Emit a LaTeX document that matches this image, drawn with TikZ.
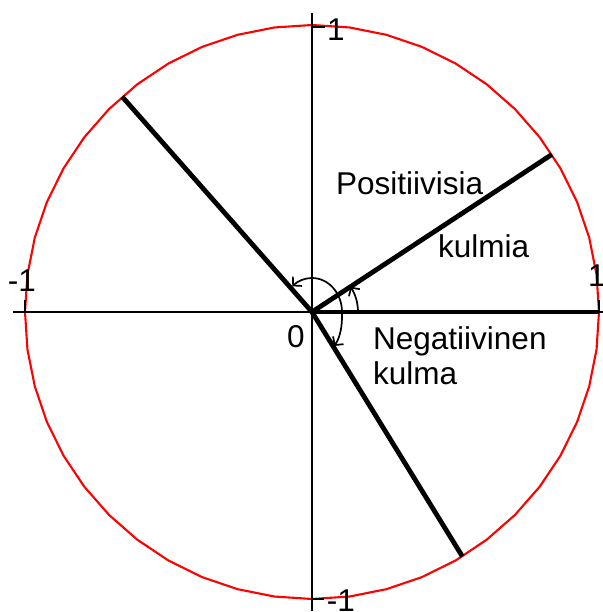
\documentclass[tikz,border=0pt]{standalone}
\usepackage{fontspec}
\setmainfont{Liberation Sans}
\usetikzlibrary{arrows.meta}

\begin{document}
\begin{tikzpicture}[x=1pt,y=1pt,
  axis/.style={line width=1.7pt},
  ray/.style={line width=4.8pt},
  turn/.style={line width=1.7pt,-{Straight Barb[length=6pt,width=13pt]}},
  lbl/.style={inner sep=0pt,font=\fontsize{31.5}{36}\selectfont}]
  \useasboundingbox (-312,-300) rectangle (290,312);

  \coordinate (O) at (0,0);
  \draw[red,line width=2.1pt] plot[samples=49,domain=0:360] ({287*cos(\x)},{287*sin(\x)});

  % axes and ticks
  \draw[axis] (-299,0) -- (299,0);
  \draw[axis] (0,-299) -- (0,299);
  \draw[axis] (-287,0) -- (-287,12);
  \draw[axis] (287,0) -- (287,12);
  \draw[axis] (0,285) -- (13,285);
  \draw[axis] (0,-287) -- (12,-287);

  % the angles
  \coordinate (a0) at (0:287);
  \coordinate (a1) at (33.3:287);
  \coordinate (a2) at (131.4:287);
  \coordinate (a3) at (-58.4:287);
  \draw[ray] (O) -- (a0);
  \draw[ray] (O) -- (a1);
  \draw[ray] (O) -- (a2);
  \draw[ray] (O) -- (a3);

  \draw[turn] (46,0) arc[start angle=0,end angle=33.3,radius=46];
  \draw[turn] (30,0) arc[start angle=0,end angle=131,x radius=30,y radius=34];
  \draw[turn] (30,0) .. controls (30.5,-14) and (28,-26) .. (22,-34);

  \node[lbl] (one) at (24,282) {1};
  \node[lbl] (mone) at (-290,31) {-1};
  \node[lbl] (xone) at (285,36) {1};
  \node[lbl] (ymone) at (29,-289) {-1};
  \node[lbl] (zero) at (-16,-25) {0};

  \node[lbl,anchor=base west] (pos) at (24,117) {Positiivisia};
  \node[lbl,anchor=base west] (posb) at (126,54) {kulmia};
  \node[lbl,anchor=base west] (neg) at (61,-38) {Negatiivinen};
  \node[lbl,anchor=base west] (negb) at (61,-73) {kulma};
\end{tikzpicture}
\end{document}
